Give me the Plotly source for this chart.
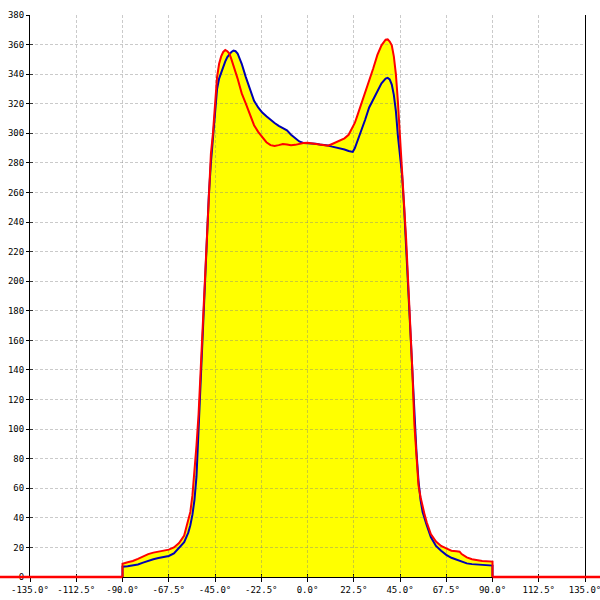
import plotly.graph_objects as go

# ---- data ----
angles = [-90, -87.5, -85, -82.5, -80, -77.5, -75, -72.5, -70, -67.5, -65, -62.5, -60,
          -58, -57, -56, -55, -54, -53, -52, -51, -50, -49, -48, -47, -46, -45, -44, -43,
          -42, -41, -40, -39, -38, -37, -36, -35, -34, -33, -32, -30, -28, -26, -24, -22,
          -20, -18, -16, -14, -12, -10, -8, -6, -4, -2, 0, 2, 4, 6, 8, 10, 12, 14, 16, 18,
          20, 22, 23, 24, 26, 28, 30, 32, 34, 36, 38, 39, 40, 41, 42, 43, 44, 45, 46, 47,
          48, 49, 50, 51, 52, 53, 54, 55, 56, 57, 58, 60, 62.5, 65, 67.5, 70, 72.5, 74, 75,
          77.5, 80, 85, 90]

red_vals = [9, 10, 10.8, 12.3, 14, 15.5, 16.5, 17, 17.8, 18.5, 20, 23, 28,
            38, 44, 55, 70, 89, 110, 139, 167, 202, 233, 263, 286, 300, 318, 338, 347,
            352, 355, 356.3, 355.5, 354, 350, 346, 341.5, 337, 332, 327, 320, 312, 305.5, 301, 297.5,
            294, 292, 291.4, 292, 292.8, 292.5, 292, 292.2, 293, 293.5, 293.6, 293.2, 292.8, 292.2, 291.6, 291.6, 292.8, 294.2, 295.5, 296.6,
            299, 304, 307, 311, 319, 327, 334.5, 344, 353, 359.5, 363.3, 363.5, 362, 359.5, 352, 340, 321, 298, 276, 255,
            228, 199, 173, 140, 103, 80, 62, 54, 47, 42, 37, 29, 24, 21, 19.4, 17.8, 17.4, 17.1, 15.5,
            13.3, 12, 10.8, 10.4]

blue_vals = [7, 7.3, 7.7, 8.5, 9.7, 11, 12, 12.8, 13.5, 14.2, 16, 19.5, 23.5,
             30, 35, 42, 52, 68, 100, 130, 160, 195, 228, 258, 280, 295, 313, 330, 337,
             341, 345.5, 348.7, 351.5, 353.5, 355, 355.9, 355.5, 354, 351, 347, 338, 329.3, 322, 317.5, 314,
             311.5, 309, 307, 305, 303.5, 302, 299, 296.5, 294.5, 293.5, 293.5, 293.3, 293, 292.5, 292.2, 291.8, 291, 290.5, 289.8, 289,
             288, 287.4, 289.9, 293.5, 301, 309, 317.5, 323, 328, 333.8, 337, 337.5, 336.5, 333, 326, 315, 298, 285, 272, 250,
             222, 195, 168, 140, 110, 85, 65, 52, 44, 39, 35, 27, 21, 17.7, 15, 13, 11.8, 11, 10.6,
             9.2, 8.7, 8, 7.7]

x_range = [-135, 135]
y_range = [0, 380]
x_ticks = [-135 + 22.5 * i for i in range(13)]
x_ticktext = [f"{v:.1f}°" for v in x_ticks]

# ---- styles ----
YELLOW = "#ffff00"
RED = "#ff0000"
BLUE = "#0000b4"
GRID = "rgba(128,128,128,0.42)"
FONT = dict(family="DejaVu Sans Mono", size=9, color="black")

# series closed down to the baseline at both ends
xr = [angles[0]] + angles + [angles[-1]]
red_y = [0] + red_vals + [0]
blue_y = [0] + blue_vals + [0]

fig = go.Figure()

# fills (bottom subplot)
fig.add_trace(go.Scatter(x=xr, y=red_y, mode="lines", line=dict(width=0, color=YELLOW),
                         fill="tozeroy", fillcolor=YELLOW, xaxis="x", yaxis="y",
                         hoverinfo="skip", showlegend=False))
fig.add_trace(go.Scatter(x=xr, y=blue_y, mode="lines", line=dict(width=0, color=YELLOW),
                         fill="tozeroy", fillcolor=YELLOW, xaxis="x", yaxis="y",
                         hoverinfo="skip", showlegend=False))
# lines (top subplot, above the grid)
fig.add_trace(go.Scatter(x=xr, y=blue_y, mode="lines", line=dict(width=2, color=BLUE),
                         xaxis="x2", yaxis="y2", showlegend=False))
fig.add_trace(go.Scatter(x=xr, y=red_y, mode="lines", line=dict(width=2, color=RED),
                         xaxis="x2", yaxis="y2", showlegend=False))

def frac(v):
    return (v - x_range[0]) / (x_range[1] - x_range[0])

# red zero baseline extending out beyond the data on both sides
fig.add_shape(type="line", xref="paper", yref="paper", x0=-0.2, x1=frac(angles[0]), y0=0, y1=0,
              line=dict(color=RED, width=2.5), layer="above")
fig.add_shape(type="line", xref="paper", yref="paper", x0=frac(angles[-1]), x1=1.2, y0=0, y1=0,
              line=dict(color=RED, width=2.5), layer="above")

common_hidden = dict(showgrid=False, showline=False, zeroline=False, showticklabels=False,
                     ticks="inside", ticklen=3, tickcolor="black", tickwidth=1, fixedrange=True,
                     automargin=False)

fig.update_layout(
    width=600, height=600,
    margin=dict(l=30, r=15, t=15, b=23, autoexpand=False),
    paper_bgcolor="white",
    plot_bgcolor="rgba(0,0,0,0)",
    font=FONT,
    showlegend=False,
    xaxis=dict(range=x_range, domain=[0, 1], anchor="y", tickmode="array", tickvals=x_ticks,
               **common_hidden),
    yaxis=dict(range=y_range, domain=[0, 1], anchor="x", tickmode="linear", tick0=0, dtick=20,
               **common_hidden),
    xaxis2=dict(range=x_range, domain=[0, 1], anchor="y2", tickmode="array", tickvals=x_ticks,
                ticktext=x_ticktext, showgrid=True, gridcolor=GRID, griddash="3px,2px", gridwidth=1,
                zeroline=False, showline=True, linecolor="black", linewidth=1,
                ticks="outside", ticklen=4, tickcolor="black", tickfont=FONT,
                ticklabeloverflow="allow",
                layer="above traces", fixedrange=True, automargin=False),
    yaxis2=dict(range=y_range, domain=[0, 1], anchor="x2", tickmode="linear", tick0=0, dtick=20,
                showgrid=True, gridcolor=GRID, griddash="3px,2px", gridwidth=1,
                zeroline=False, showline=True, mirror=True, linecolor="black", linewidth=1,
                ticks="outside", ticklen=3, tickcolor="black", tickfont=FONT,
                ticklabeloverflow="allow",
                layer="above traces", fixedrange=True, automargin=False),
)

fig.write_html("out.html", config={"displayModeBar": False},
               post_script="document.body.style.margin='0';document.body.style.overflow='hidden';")
